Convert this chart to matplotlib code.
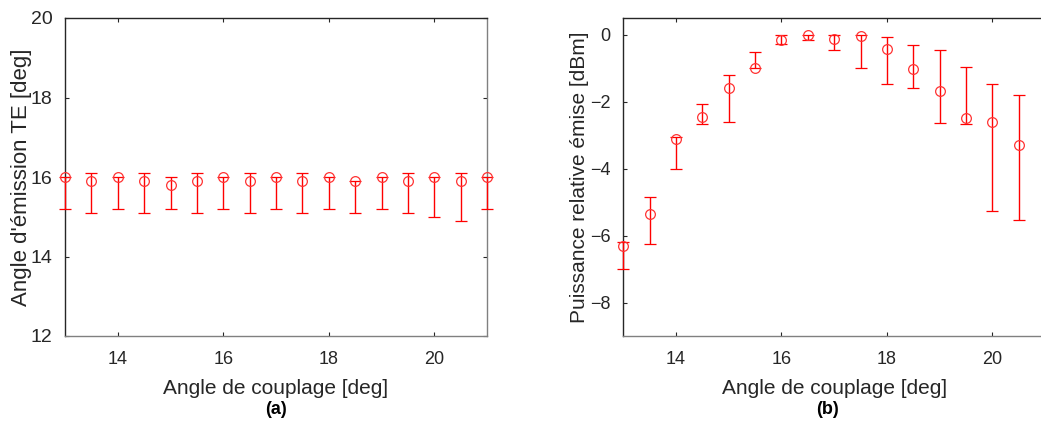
import matplotlib
matplotlib.use("Agg")
import matplotlib.pyplot as plt
import numpy as np

plt.rcParams['font.family'] = ['Liberation Sans', 'DejaVu Sans']

# Panel (a): emission angle vs coupling angle
angle_a = [13, 13.5, 14, 14.5, 15, 15.5, 16, 16.5, 17, 17.5, 18, 18.5, 19, 19.5, 20, 20.5, 21]
te_angle = [16.0, 15.9, 16.0, 15.9, 15.8, 15.9, 16.0, 15.9, 16.0, 15.9, 16.0, 15.9, 16.0, 15.9, 16.0, 15.9, 16.0]
te_top = [16.0, 16.1, 16.0, 16.1, 16.0, 16.1, 16.0, 16.1, 16.0, 16.1, 16.0, 15.9, 16.0, 16.1, 16.0, 16.1, 16.0]
te_bot = [15.2, 15.1, 15.2, 15.1, 15.2, 15.1, 15.2, 15.1, 15.2, 15.1, 15.2, 15.1, 15.2, 15.1, 15.0, 14.9, 15.2]

# Panel (b): relative emitted power vs coupling angle
angle_b = [13, 13.5, 14, 14.5, 15, 15.5, 16, 16.5, 17, 17.5, 18, 18.5, 19, 19.5, 20, 20.5]
power = [-6.3, -5.37, -3.1, -2.47, -1.59, -0.99, -0.16, -0.02, -0.13, -0.03, -0.42, -1.03, -1.69, -2.49, -2.62, -3.29]
p_top = [-6.2, -4.84, -3.05, -2.08, -1.21, -0.53, -0.01, 0.0, -0.01, 0.0, -0.07, -0.32, -0.45, -0.97, -1.46, -1.81]
p_bot = [-7.0, -6.26, -4.0, -2.68, -2.6, -0.99, -0.28, -0.16, -0.47, -0.99, -1.46, -1.58, -2.65, -2.68, -5.28, -5.53]

xlabel = "Angle de couplage [deg]"
ylabel_a = "Angle d'émission TE [deg]"
ylabel_b = "Puissance relative émise [dBm]"

W, H = 1041, 422
fig = plt.figure(figsize=(W / 100, H / 100), dpi=100)

def px_axes(l, t, r, b):
    return fig.add_axes([l / W, 1 - b / H, (r - l) / W, (b - t) / H])

ax1 = px_axes(65, 18, 487, 336)
ax2 = px_axes(623.3, 18, 1045, 336)

dark = '#262626'
grey = '#808080'

def style(ax, ysize):
    for s in ['left', 'top']:
        ax.spines[s].set_color(dark)
    for s in ['bottom', 'right']:
        ax.spines[s].set_color(grey)
    for s in ax.spines.values():
        s.set_linewidth(1.0)
    ax.tick_params(direction='in', length=3, width=0.8, top=True, right=True,
                   labelsize=13, colors=dark)
    ax.tick_params(axis='x', pad=11)
    ax.tick_params(axis='y', pad=9, labelsize=ysize)
    ax.set_xlabel(xlabel, fontsize=15, color=dark, labelpad=8)

def draw(ax, x, y, top, bot):
    y = np.array(y)
    err = [y - np.array(bot), np.array(top) - y]
    ax.errorbar(x, y, yerr=err, fmt='o', color='#ff0000', ecolor='#ff0000',
                mfc='none', mec='#ff3333', ms=7, mew=0.9, elinewidth=1.0,
                capsize=4.5, capthick=1.0, clip_on=False, zorder=3)

draw(ax1, angle_a, te_angle, te_top, te_bot)
ax1.set_xlim(13, 21)
ax1.set_ylim(12, 20)
ax1.set_xticks([14, 16, 18, 20])
ax1.set_yticks([12, 14, 16, 18, 20])
style(ax1, 14)
ax1.set_ylabel(ylabel_a, fontsize=16, color=dark)
ax1.yaxis.set_label_coords(-0.079, 0.5)

draw(ax2, angle_b, power, p_top, p_bot)
ax2.set_xlim(13, 21)
ax2.set_ylim(-9, 0.5)
ax2.set_xticks([14, 16, 18, 20])
ax2.set_yticks([-8, -6, -4, -2, 0])
style(ax2, 13)
ax2.set_ylabel(ylabel_b, fontsize=15, color=dark)
ax2.yaxis.set_label_coords(-0.082, 0.5)

fig.text((65 + 487) / 2 / W, 1 - 410 / H, "(a)", ha='center', va='center',
         fontsize=13, fontweight='bold', color='black')
fig.text((623.3 + 1041) / 2 / W - 0.004, 1 - 410 / H, "(b)", ha='center', va='center',
         fontsize=13, fontweight='bold', color='black')

fig.savefig('out.png', dpi=100)
